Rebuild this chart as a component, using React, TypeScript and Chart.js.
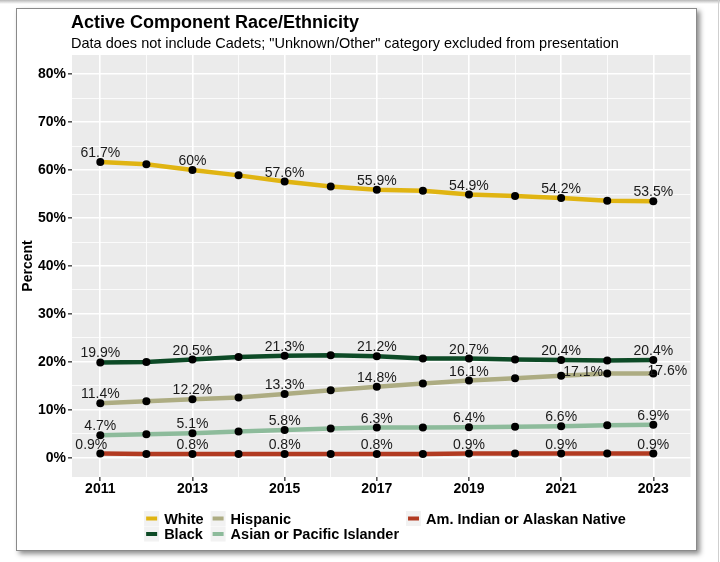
import React, { useEffect, useRef } from "react";
import { Chart, registerables } from "chart.js";

Chart.register(...registerables);

const years = [2011, 2012, 2013, 2014, 2015, 2016, 2017, 2018, 2019, 2020, 2021, 2022, 2023];
const white = [61.7, 61.2, 60, 58.9, 57.6, 56.6, 55.9, 55.7, 54.9, 54.6, 54.2, 53.6, 53.5];
const black = [19.9, 20.0, 20.5, 21.0, 21.3, 21.4, 21.2, 20.7, 20.7, 20.5, 20.4, 20.3, 20.4];
const hispanic = [11.4, 11.8, 12.2, 12.6, 13.3, 14.1, 14.8, 15.5, 16.1, 16.6, 17.1, 17.6, 17.6];
const asian = [4.7, 4.9, 5.1, 5.5, 5.8, 6.1, 6.3, 6.3, 6.4, 6.5, 6.6, 6.8, 6.9];
const amIndian = [0.9, 0.8, 0.8, 0.8, 0.8, 0.8, 0.8, 0.8, 0.9, 0.9, 0.9, 0.9, 0.9];

const seriesNames = ["White", "Black", "Hispanic", "Asian or Pacific Islander", "Am. Indian or Alaskan Native"];
const yTickValues = [0, 5, 10, 15, 20, 25, 30, 35, 40, 45, 50, 55, 60, 65, 70, 75, 80];
const titleText = "Active Component Race/Ethnicity";
const subtitleText = 'Data does not include Cadets; "Unknown/Other" category excluded from presentation';

const COLORS: Record<string, string> = {
  White: "#E0B412",
  Black: "#0D4A26",
  Hispanic: "#ADAC82",
  "Asian or Pacific Islander": "#8DBB9B",
  "Am. Indian or Alaskan Native": "#B23B22",
};

// legend layout: columns (ggplot nrow = 2, by column)
const legendColumns = [["White", "Black"], ["Hispanic", "Asian or Pacific Islander"], ["Am. Indian or Alaskan Native"]];

// label nudges (repelled labels) [dx, dy]
const NUDGES: Record<string, [number, number]> = {
  "Am. Indian or Alaskan Native-0": [-9, 0],
  "Hispanic-10": [22, 5],
  "Hispanic-12": [14, 7],
};

const FONT = '"Liberation Sans", Arial, Helvetica, sans-serif';

const panelPlugin = {
  id: "panelBg",
  beforeDraw(chart: any) {
    const { ctx, chartArea } = chart;
    ctx.save();
    ctx.fillStyle = "#EBEBEB";
    ctx.fillRect(chartArea.left, chartArea.top, chartArea.right - chartArea.left, chartArea.bottom - chartArea.top);
    // title & subtitle
    ctx.fillStyle = "#000";
    ctx.textAlign = "left";
    ctx.textBaseline = "alphabetic";
    ctx.font = `bold 18px ${FONT}`;
    ctx.fillText(titleText, chartArea.left - 1, 28);
    ctx.font = `14.5px ${FONT}`;
    ctx.fillText(subtitleText, chartArea.left - 1, 48);
    ctx.restore();
  },
};

const labelPlugin = {
  id: "pointLabels",
  afterDatasetsDraw(chart: any) {
    const ctx = chart.ctx;
    ctx.save();
    ctx.font = `14px ${FONT}`;
    ctx.fillStyle = "#1a1a1a";
    ctx.textAlign = "center";
    ctx.textBaseline = "alphabetic";
    chart.data.datasets.forEach((ds: any, di: number) => {
      const meta = chart.getDatasetMeta(di);
      meta.data.forEach((pt: any, i: number) => {
        if (years[i] % 2 === 0) return;
        const n = NUDGES[`${ds.label}-${i}`] || [0, 0];
        ctx.fillText(`${ds.data[i].y}%`, pt.x + n[0], pt.y - 5 + n[1]);
      });
    });
    ctx.restore();
  },
};

const legendPlugin = {
  id: "customLegend",
  afterDraw(chart: any) {
    const ctx = chart.ctx;
    ctx.save();
    ctx.font = `bold 14.5px ${FONT}`;
    const keyW = 15;
    const keyH = 15;
    const keyGap = 5;
    const colGap = 7;
    const colWidths = legendColumns.map((col) => keyW + keyGap + Math.max(...col.map((t) => ctx.measureText(t).width)));
    const total = colWidths.reduce((a, b) => a + b, 0) + colGap * (legendColumns.length - 1);
    let x = 385 - total / 2;
    const rowY = [518.5, 534];
    legendColumns.forEach((col, ci) => {
      col.forEach((name, ri) => {
        const cy = rowY[ri];
        ctx.fillStyle = "#F2F2F2";
        ctx.fillRect(x, cy - keyH / 2, keyW, keyH);
        ctx.strokeStyle = COLORS[name];
        ctx.lineWidth = 4;
        ctx.beginPath();
        ctx.moveTo(x + 2, cy);
        ctx.lineTo(x + keyW - 2, cy);
        ctx.stroke();
        ctx.fillStyle = "#000";
        ctx.textAlign = "left";
        ctx.textBaseline = "middle";
        ctx.fillText(name, x + keyW + keyGap, cy + 1);
      });
      x += colWidths[ci] + colGap;
    });
    ctx.restore();
  },
};

export default function App() {
  const ref = useRef<HTMLCanvasElement>(null);
  useEffect(() => {
    if (!ref.current) return;
    const allSeries = [white, black, hispanic, asian, amIndian];
    const chart = new Chart(ref.current, {
      type: "line",
      data: {
        datasets: seriesNames.map((name, si) => ({
          label: name,
          data: years.map((yr, i) => ({ x: yr, y: allSeries[si][i] })),
          borderColor: COLORS[name],
          backgroundColor: "#000",
          borderWidth: 4.5,
          pointRadius: 4,
          pointBackgroundColor: "#000",
          pointBorderWidth: 0,
          tension: 0,
        })),
      },
      options: {
        animation: false,
        responsive: false,
        layout: { padding: { left: 16, top: 55, right: 29.5, bottom: 65 } },
        plugins: { legend: { display: false }, tooltip: { enabled: false }, title: { display: false } },
        scales: {
          x: {
            type: "linear",
            min: 2010.386,
            max: 2023.807,
            afterBuildTicks: (scale: any) => {
              scale.ticks = years.map((v) => ({ value: v }));
            },
            afterFit: (scale: any) => {
              scale.height = 20;
            },
            border: { display: false },
            grid: {
              color: "#FFFFFF",
              lineWidth: (c: any) => (c.tick && c.tick.value % 2 === 1 ? 1.6 : 0.8),
              tickColor: (c: any) => (c.tick && c.tick.value % 2 === 1 ? "#555" : "rgba(0,0,0,0)"),
              tickLength: 4,
            },
            ticks: {
              autoSkip: false,
              maxRotation: 0,
              padding: 0,
              color: "#000",
              font: { family: FONT, size: 14, weight: "bold" },
              callback: (v: any) => (Number(v) % 2 === 1 ? String(v) : ""),
            },
          },
          y: {
            min: -4,
            max: 84,
            afterBuildTicks: (scale: any) => {
              scale.ticks = yTickValues.map((v) => ({ value: v }));
            },
            afterFit: (scale: any) => {
              scale.width = 56;
            },
            border: { display: false },
            title: {
              display: true,
              text: "Percent",
              color: "#000",
              font: { family: FONT, size: 14, weight: "bold" },
              padding: { top: 4, bottom: 0 },
            },
            grid: {
              color: "#FFFFFF",
              lineWidth: (c: any) => (c.tick && c.tick.value % 10 === 0 ? 1.6 : 0.8),
              tickColor: (c: any) => (c.tick && c.tick.value % 10 === 0 ? "#555" : "rgba(0,0,0,0)"),
              tickLength: 4,
            },
            ticks: {
              padding: 2,
              color: "#000",
              font: { family: FONT, size: 14, weight: "bold" },
              callback: (v: any) => (Number(v) % 10 === 0 ? `${v}%` : ""),
            },
          },
        },
      },
      plugins: [panelPlugin, labelPlugin, legendPlugin],
    } as any);
    return () => chart.destroy();
  }, []);

  return (
    <div style={{ position: "fixed", left: 0, top: 0, width: 720, height: 562, background: "#fff", overflow: "hidden" }}>
      <div style={{ position: "absolute", left: 0, top: 0, width: 720, height: 4, background: "linear-gradient(#b8b8b8, #ffffff)" }} />
      <div style={{ position: "absolute", left: 718, top: 0, width: 1, height: 562, background: "#cfcfcf" }} />
      <div
        style={{
          position: "absolute",
          left: 16,
          top: 8,
          width: 679,
          height: 541,
          border: "1px solid #8a8a8a",
          background: "#fff",
          boxShadow: "3px 3px 5px rgba(0,0,0,0.45)",
        }}
      />
      <canvas ref={ref} width={720} height={562} style={{ position: "absolute", left: 0, top: 0, width: 720, height: 562 }} />
    </div>
  );
}
